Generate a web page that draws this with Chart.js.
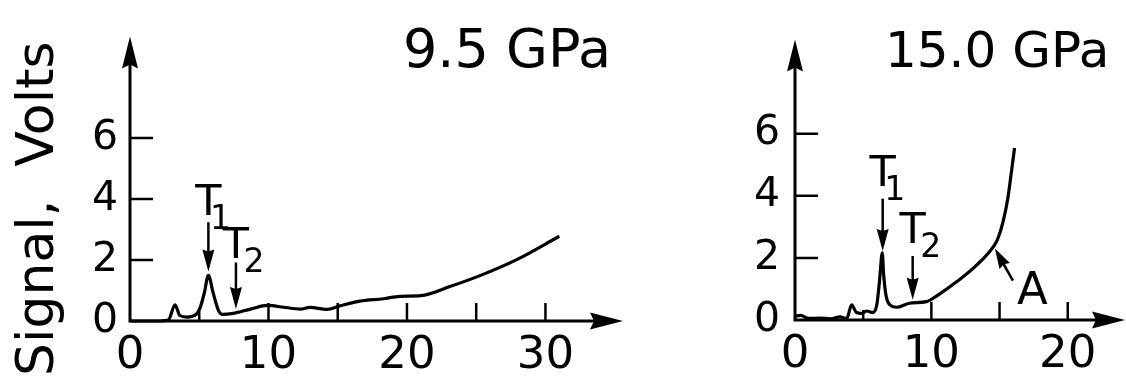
<!DOCTYPE html>
<html>
<head>
<meta charset="utf-8">
<title>Signal vs temperature traces at 9.5 and 15.0 GPa</title>
<script src="https://cdn.jsdelivr.net/npm/chart.js@4/dist/chart.umd.min.js"></script>
<style>
  html, body { margin: 0; padding: 0; background: #fff; }
  #wrap { position: relative; width: 1126px; height: 379px; overflow: hidden; }
  .panel { position: absolute; top: 0; height: 379px; }
  #p1 { left: 0; width: 640px; }
  #p2 { left: 640px; width: 486px; }
</style>
</head>
<body>
<div id="wrap">
  <div class="panel" id="p1"><canvas id="c1" width="640" height="379"></canvas></div>
  <div class="panel" id="p2"><canvas id="c2" width="486" height="379"></canvas></div>
</div>
<script>
// ---- 9.5 GPa trace ----
const lowX = [0, 2.2, 2.77, 3.25, 3.6, 4.1, 4.8, 5.06, 5.37, 5.66, 6.0, 6.4, 6.65, 7.45, 8.7, 9.9, 11.1, 12.3, 13.0, 14.2, 15.2, 16.6, 18.3, 19.5, 21.0, 23.1, 25.5, 28.0, 31.0];
const lowY = [0, 0, 0.03, 0.53, 0.18, 0.13, 0.23, 0.43, 0.93, 1.5, 0.93, 0.33, 0.22, 0.25, 0.39, 0.51, 0.45, 0.39, 0.45, 0.38, 0.5, 0.65, 0.73, 0.81, 0.83, 1.13, 1.53, 2.03, 2.78];

// ---- 15.0 GPa trace ----
const highX = [0, 0.4, 1.0, 1.8, 2.6, 3.3, 3.8, 4.15, 4.5, 4.9, 5.25, 5.7, 6.0, 6.2, 6.4, 6.5, 6.68, 6.96, 7.45, 8.4, 9.65, 10.4, 11.85, 13.3, 14.65, 14.9, 15.25, 15.6, 15.85, 16.1];
const highY = [0.12, 0.15, 0.05, 0.06, 0.04, 0.1, 0.05, 0.49, 0.24, 0.21, 0.29, 0.24, 0.49, 1.27, 2.16, 1.47, 0.78, 0.49, 0.41, 0.54, 0.59, 0.78, 1.23, 1.76, 2.43, 2.65, 3.15, 3.9, 4.7, 5.54];

// ---- axis labels and tick marks ----
const yTickLabels = [0, 2, 4, 6];
const yTickMarks = [2, 4, 6];
const lowXLabels = [0, 10, 20, 30];
const lowXMajor = [10, 15, 20, 25, 30];
const highXLabels = [0, 10, 20];
const highXMajor = [10, 15, 20];
const xMinor = [5];

// ---- transition markers (x, label baseline, arrow top, arrow tip in data units) ----
const lowMarkers = [
  { name: 'T', sub: '1', x: 5.66, label: 3.48, top: 3.24, tip: 1.62 },
  { name: 'T', sub: '2', x: 7.65, label: 2.07, top: 1.92, tip: 0.39 }
];
const highMarkers = [
  { name: 'T', sub: '1', x: 6.43, label: 4.32, top: 3.91, tip: 2.22 },
  { name: 'T', sub: '2', x: 8.63, label: 2.47, top: 2.06, tip: 0.65 }
];
const highPointers = [
  { name: 'A', fromX: 15.98, fromY: 1.27, toX: 14.66, toY: 2.30 }
];

const FONT = "'DejaVu Sans', sans-serif";

function head(ctx, tx, ty, dx, dy, len, half, notch) {
  const bx = tx - dx * len, by = ty - dy * len;
  ctx.beginPath();
  ctx.moveTo(tx, ty);
  ctx.lineTo(bx - dy * half, by + dx * half);
  ctx.lineTo(bx + dx * notch, by + dy * notch);
  ctx.lineTo(bx + dy * half, by - dx * half);
  ctx.closePath();
  ctx.fill();
}

const decor = {
  id: 'decor',
  beforeDatasetsDraw(chart, args, o) {
    const { ctx, chartArea: a } = chart;
    const xs = chart.scales.x, ys = chart.scales.y;
    const x0 = xs.getPixelForValue(0), y0 = ys.getPixelForValue(0);
    ctx.save();
    ctx.strokeStyle = '#000';
    ctx.fillStyle = '#000';
    ctx.lineWidth = 3;
    // axes with arrowheads
    ctx.beginPath();
    ctx.moveTo(x0, y0 + 1.5);
    ctx.lineTo(x0, a.top + 20);
    ctx.moveTo(x0 - 1.5, y0);
    ctx.lineTo(a.right - 20, y0);
    ctx.stroke();
    head(ctx, x0, a.top, 0, -1, 32, 8, 4);
    head(ctx, a.right, y0, 1, 0, 33, 8.5, 4);
    // tick marks pointing into the plot
    ctx.lineWidth = 2.5;
    ctx.beginPath();
    o.yMarks.forEach(v => {
      const py = ys.getPixelForValue(v);
      ctx.moveTo(x0, py); ctx.lineTo(x0 + 23, py);
    });
    o.xMajor.forEach(v => {
      const px = xs.getPixelForValue(v);
      ctx.moveTo(px, y0); ctx.lineTo(px, y0 - 18);
    });
    o.xMinor.forEach(v => {
      const px = xs.getPixelForValue(v);
      ctx.moveTo(px, y0); ctx.lineTo(px, y0 - 10);
    });
    ctx.stroke();
    ctx.restore();
  },
  afterDatasetsDraw(chart, args, o) {
    const { ctx } = chart;
    const xs = chart.scales.x, ys = chart.scales.y;
    ctx.save();
    ctx.strokeStyle = '#000';
    ctx.fillStyle = '#000';
    ctx.lineWidth = 2.5;
    // T markers: label above a downward arrow
    (o.markers || []).forEach(m => {
      const px = xs.getPixelForValue(m.x);
      const pLabel = ys.getPixelForValue(m.label);
      const pTop = ys.getPixelForValue(m.top);
      const pTip = ys.getPixelForValue(m.tip);
      ctx.beginPath();
      ctx.moveTo(px, pTop);
      ctx.lineTo(px, pTip - 18);
      ctx.stroke();
      head(ctx, px, pTip, 0, 1, 22, 6, 2);
      ctx.font = '43px ' + FONT;
      ctx.textAlign = 'center';
      ctx.textBaseline = 'alphabetic';
      ctx.fillText(m.name, px, pLabel);
      ctx.font = '33px ' + FONT;
      ctx.fillText(m.sub, px + (m.sub === '1' ? 12 : 18), pLabel + 14);
    });
    // slanted pointers
    (o.pointers || []).forEach(p => {
      const fx = xs.getPixelForValue(p.fromX), fy = ys.getPixelForValue(p.fromY);
      const tx = xs.getPixelForValue(p.toX), ty = ys.getPixelForValue(p.toY);
      const d = Math.hypot(tx - fx, ty - fy);
      const dx = (tx - fx) / d, dy = (ty - fy) / d;
      ctx.beginPath();
      ctx.moveTo(fx, fy);
      ctx.lineTo(tx - dx * 16, ty - dy * 16);
      ctx.stroke();
      head(ctx, tx, ty, dx, dy, 20, 6, 2);
      ctx.font = '45px ' + FONT;
      ctx.textAlign = 'left';
      ctx.textBaseline = 'alphabetic';
      ctx.fillText(p.name, fx + 4, fy + 23);
    });
    // pressure heading
    ctx.font = o.titleSize + 'px ' + FONT;
    ctx.textAlign = 'left';
    ctx.textBaseline = 'alphabetic';
    ctx.fillText(o.title, o.titleX, o.titleY);
    // vertical axis title
    if (o.yTitle) {
      ctx.translate(53, 376);
      ctx.rotate(-Math.PI / 2);
      ctx.font = '52px ' + FONT;
      ctx.fillText(o.yTitle, 0, 0);
    }
    ctx.restore();
  }
};

function makeChart(id, xs, ys, cfg) {
  return new Chart(document.getElementById(id), {
    type: 'line',
    data: {
      datasets: [{
        data: xs.map((v, i) => ({ x: v, y: ys[i] })),
        borderColor: '#000',
        borderWidth: 3.2,
        pointRadius: 0,
        fill: false,
        cubicInterpolationMode: 'monotone',
        clip: false
      }]
    },
    options: {
      responsive: false,
      animation: false,
      events: [],
      layout: { padding: { top: cfg.padTop, right: cfg.padRight, left: 0, bottom: 0 } },
      scales: {
        x: {
          type: 'linear', min: 0, max: cfg.xMax,
          grid: { display: false, drawTicks: false },
          border: { display: false },
          afterBuildTicks: s => { s.ticks = cfg.xLabels.map(v => ({ value: v })); },
          afterFit: s => { s.height = cfg.xAxisHeight; },
          ticks: { color: '#000', padding: 8, maxRotation: 0, autoSkip: false,
                   font: { family: FONT, size: 45 } }
        },
        y: {
          type: 'linear', min: 0, max: cfg.yMax,
          grid: { display: false, drawTicks: false },
          border: { display: false },
          afterBuildTicks: s => { s.ticks = yTickLabels.map(v => ({ value: v })); },
          afterFit: s => { s.width = cfg.yAxisWidth; },
          ticks: { color: '#000', padding: cfg.yPad, autoSkip: false,
                   font: { family: FONT, size: 41 } }
        }
      },
      plugins: {
        legend: { display: false },
        tooltip: { enabled: false },
        decor: cfg.decor
      }
    },
    plugins: [decor]
  });
}

makeChart('c1', lowX, lowY, {
  xMax: 35.6, yMax: 9.33, padTop: 10, padRight: 17, xAxisHeight: 58, yAxisWidth: 130, yPad: 12,
  xLabels: lowXLabels,
  decor: {
    yMarks: yTickMarks, xMajor: lowXMajor, xMinor: xMinor,
    markers: lowMarkers,
    title: '9.5 GPa', titleX: 403, titleY: 67, titleSize: 54,
    yTitle: 'Signal,  Volts'
  }
});

makeChart('c2', highX, highY, {
  xMax: 24.2, yMax: 9.03, padTop: 13, padRight: 1, xAxisHeight: 59, yAxisWidth: 155, yPad: 15,
  xLabels: highXLabels,
  decor: {
    yMarks: yTickMarks, xMajor: highXMajor, xMinor: xMinor,
    markers: highMarkers, pointers: highPointers,
    title: '15.0 GPa', titleX: 245, titleY: 67, titleSize: 50
  }
});
</script>
</body>
</html>
